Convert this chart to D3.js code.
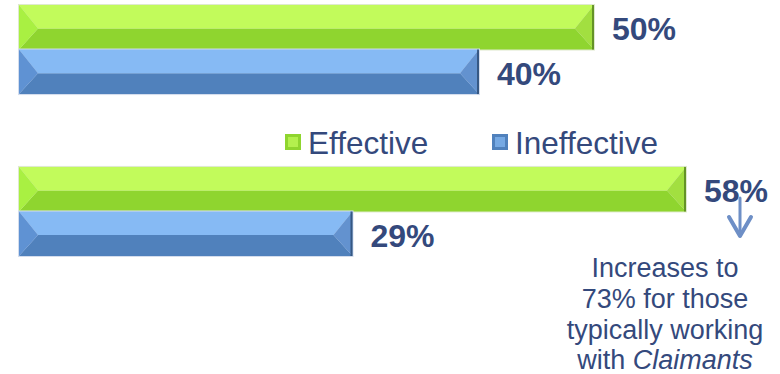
<!DOCTYPE html>
<html>
<head>
<meta charset="utf-8">
<script src="https://cdn.jsdelivr.net/npm/d3@7"></script>
<style>
  html, body { margin: 0; padding: 0; background: #ffffff; }
  svg { display: block; font-family: "Liberation Sans", Arial, sans-serif; }
</style>
</head>
<body>
<svg id="chart" width="780" height="374"></svg>
<script>
// Survey groups (unlabelled rows), series and their percentages
const groups = ["Group 1", "Group 2"];
const seriesNames = ["Effective", "Ineffective"];
const effectiveValues = [50, 58];
const ineffectiveValues = [40, 29];
const annotationLines = ["Increases to", "73% for those", "typically working"];

const palette = {
  Effective:   { top: "#c2fb5b", bottom: "#8fd52f", left: "#a9f042", right: "#a2df40", edge: "#557f1f", rim: "#dfe9cf" },
  Ineffective: { top: "#86baf4", bottom: "#5081bc", left: "#5f92d3", right: "#6392cf", edge: "#2b4a70", rim: "#d4dded" }
};
const textColor = "#34497c";

const svg = d3.select("#chart");

const x = d3.scaleLinear().domain([0, 100]).range([19, 1169]);
const y = d3.scaleBand().domain(groups).range([5, 256]).paddingInner(0.45).paddingOuter(0);
const ySub = d3.scaleBand().domain(seriesNames).range([0, y.bandwidth()]).padding(0);

const rows = [];
groups.forEach((g, i) => {
  rows.push({ group: g, series: "Effective", value: effectiveValues[i] });
  rows.push({ group: g, series: "Ineffective", value: ineffectiveValues[i] });
});

// Bevelled bar: four faces meeting at the mid line, plus a dark right edge
function bevelFaces(d) {
  const x0 = x(0), x1 = x(d.value);
  const y0 = y(d.group) + ySub(d.series);
  const y1 = y0 + ySub.bandwidth();
  const ym = y0 + (y1 - y0) * 0.53;
  const k = 19;
  return [
    { fill: "bottom", pts: [[x0, y1], [x1, y1], [x1 - k, ym], [x0 + k, ym]] },
    { fill: "top", pts: [[x0, y0], [x1, y0], [x1 - k, ym], [x0 + k, ym]] },
    { fill: "left", pts: [[x0, y0], [x0 + k, ym], [x0, y1]] },
    { fill: "right", pts: [[x1, y0], [x1 - k, ym], [x1, y1]] }
  ];
}

const bars = svg.append("g").attr("class", "bars")
  .selectAll("g").data(rows).join("g");

bars.append("rect")
  .attr("x", x(0) - 1)
  .attr("y", d => y(d.group) + ySub(d.series) - 1)
  .attr("width", d => x(d.value) - x(0) + 2)
  .attr("height", ySub.bandwidth() + 2)
  .attr("fill", d => palette[d.series].rim);

bars.selectAll("path.face")
  .data(d => bevelFaces(d).map(f => Object.assign({ series: d.series }, f)))
  .join("path")
  .attr("class", "face")
  .attr("d", f => "M" + f.pts.map(p => p.join(",")).join("L") + "Z")
  .attr("fill", f => palette[f.series][f.fill]);

bars.append("rect")
  .attr("x", d => x(d.value) - 2)
  .attr("y", d => y(d.group) + ySub(d.series))
  .attr("width", 2)
  .attr("height", ySub.bandwidth())
  .attr("fill", d => palette[d.series].edge)
  .attr("opacity", 0.8);

// Value labels
svg.append("g").selectAll("text").data(rows).join("text")
  .attr("x", d => x(d.value) + 18)
  .attr("y", d => y(d.group) + ySub(d.series) + ySub.bandwidth() / 2 + 13)
  .attr("fill", textColor)
  .attr("font-size", 32)
  .attr("font-weight", "bold")
  .text(d => d.value + "%");

// Legend
const legendX = { Effective: 285, Ineffective: 492 };
const legend = svg.append("g").selectAll("g").data(seriesNames).join("g")
  .attr("transform", d => `translate(${legendX[d]},134)`);
legend.append("rect").attr("width", 16).attr("height", 16)
  .attr("fill", d => palette[d].bottom);
legend.append("rect").attr("x", 3).attr("y", 3).attr("width", 10).attr("height", 10)
  .attr("fill", d => palette[d].top).attr("opacity", 0.7);
legend.append("text")
  .attr("x", 23).attr("y", 20)
  .attr("fill", textColor)
  .attr("font-size", 31.5)
  .text(d => d);

// Annotation arrow below the 58% label
const arrowX = 740;
const arrow = svg.append("g")
  .attr("stroke", "#6e8fc6").attr("fill", "none").attr("stroke-linecap", "round");
arrow.append("line").attr("x1", arrowX).attr("y1", 198).attr("x2", arrowX).attr("y2", 234)
  .attr("stroke-width", 3);
arrow.append("path").attr("d", `M${arrowX - 11},217L${arrowX},236L${arrowX + 11},217`)
  .attr("stroke-width", 4).attr("stroke-linejoin", "round");

// Annotation text
const note = svg.append("text")
  .attr("x", 665).attr("y", 277)
  .attr("text-anchor", "middle")
  .attr("fill", textColor)
  .attr("font-size", 27);
annotationLines.forEach((line, i) => {
  note.append("tspan").attr("x", 665).attr("dy", i === 0 ? 0 : 31).text(line);
});
const last = note.append("tspan").attr("x", 665).attr("dy", 30);
last.append("tspan").text("with ");
last.append("tspan").attr("font-style", "italic").text("Claimants");
</script>
</body>
</html>
